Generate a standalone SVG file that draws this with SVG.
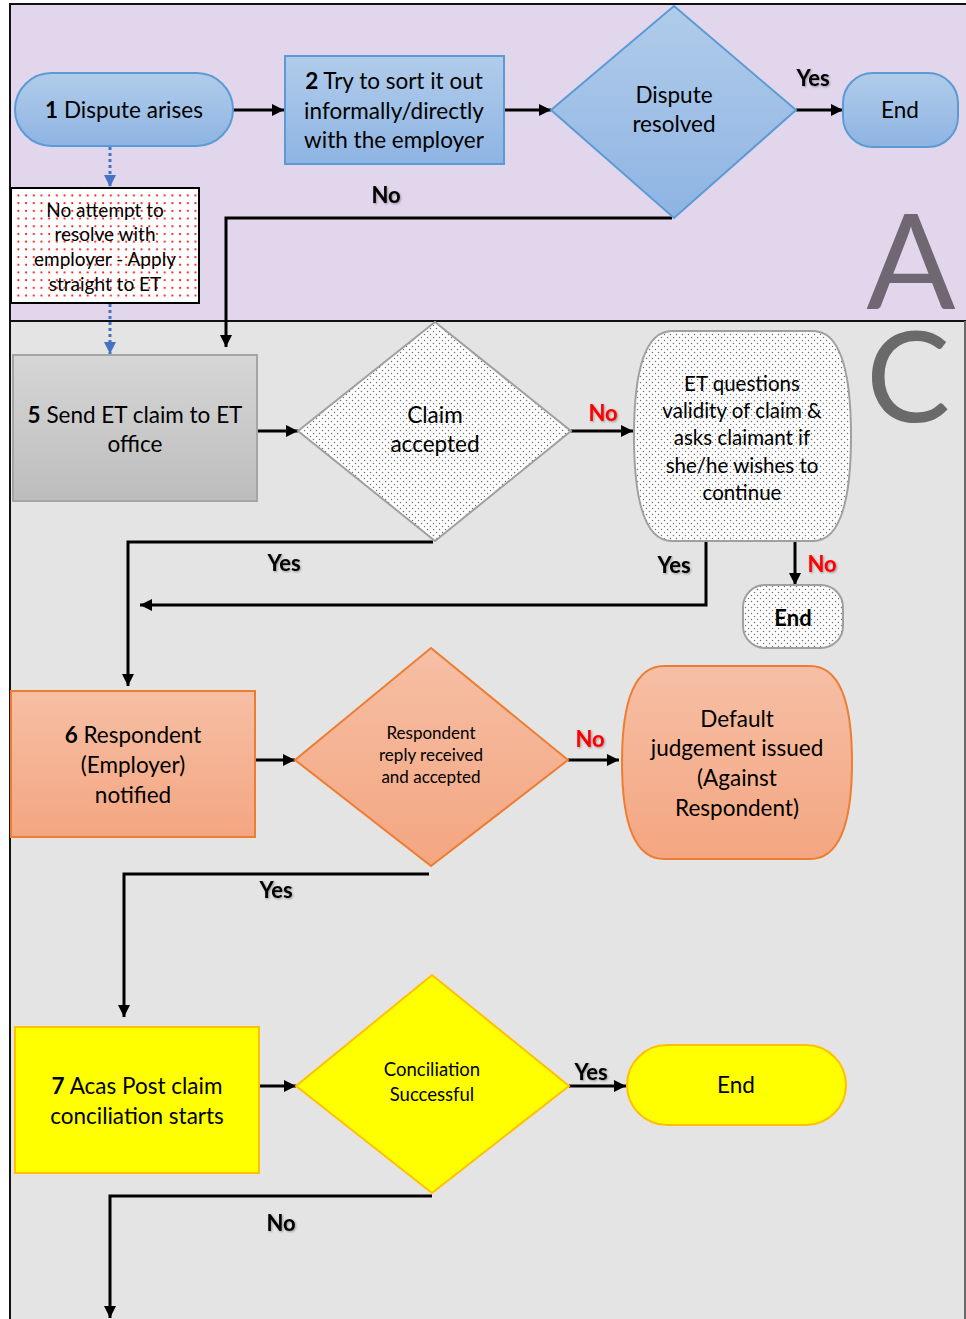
<svg xmlns="http://www.w3.org/2000/svg" width="966" height="1319" viewBox="0 0 966 1319">
  <defs>
    <style>
      .t { font-family: Lato, "Liberation Sans", sans-serif; fill: #000; text-anchor: middle; }
      .lbl { font-family: Lato, "Liberation Sans", sans-serif; font-weight: bold; font-size: 22px; text-anchor: middle; filter: url(#soft); }
      .yes { fill: #000; }
      .no { fill: #FF0000; }
      .conn { fill: none; stroke: #000; stroke-width: 3; }
      .dash { fill: none; stroke: #4472C4; stroke-width: 3; stroke-dasharray: 3 3; }
      .big { font-family: Lato, "Liberation Sans", sans-serif; text-anchor: middle; }
      .f22 { font-size: 22.5px; }
    </style>
    <linearGradient id="gBlue" x1="0" y1="0" x2="0" y2="1">
      <stop offset="0" stop-color="#B1CCEA"/>
      <stop offset="1" stop-color="#8EB4E3"/>
    </linearGradient>
    <linearGradient id="gGrey" x1="0" y1="0" x2="0" y2="1">
      <stop offset="0" stop-color="#D6D6D6"/>
      <stop offset="1" stop-color="#BDBDBD"/>
    </linearGradient>
    <linearGradient id="gOrange" x1="0" y1="0" x2="0" y2="1">
      <stop offset="0" stop-color="#F6BFA5"/>
      <stop offset="1" stop-color="#F4A681"/>
    </linearGradient>
    <pattern id="pGrey" width="6" height="6" patternUnits="userSpaceOnUse">
      <rect width="6" height="6" fill="#FFFFFF"/>
      <circle cx="1.5" cy="1.5" r="0.75" fill="#707070"/>
      <circle cx="4.5" cy="4.5" r="0.75" fill="#707070"/>
    </pattern>
    <pattern id="pRed" width="7.7" height="7.7" patternUnits="userSpaceOnUse">
      <rect width="7.7" height="7.7" fill="#FFFFFF"/>
      <circle cx="3" cy="3" r="1.05" fill="#FF0000"/>
    </pattern>
    <marker id="ah" viewBox="0 0 12 12" markerWidth="12" markerHeight="12" refX="12" refY="6" orient="auto" markerUnits="userSpaceOnUse">
      <path d="M0,0 L12,6 L0,12 z" fill="#000"/>
    </marker>
    <marker id="ahBlue" viewBox="0 0 12 12" markerWidth="12" markerHeight="12" refX="12" refY="6" orient="auto" markerUnits="userSpaceOnUse">
      <path d="M0,0 L12,6 L0,12 z" fill="#4472C4"/>
    </marker>
    <filter id="soft" x="-20%" y="-20%" width="140%" height="140%">
      <feDropShadow dx="1" dy="1" stdDeviation="0.8" flood-color="#000" flood-opacity="0.35"/>
    </filter>
  </defs>

  <!-- Section backgrounds and section letters -->
  <g id="sections">
    <rect x="10" y="4" width="960" height="317" fill="#E2D6EC" stroke="#111" stroke-width="2"/>
    <rect x="10" y="321" width="955" height="1002" fill="#E4E4E4" stroke="#111" stroke-width="2"/>
    <line x1="965" y1="321" x2="965" y2="1319" stroke="#888" stroke-width="1.5"/>
    <text class="big" x="911" y="309" font-size="132" fill="#6F6872">A</text>
    <text class="big" x="908" y="422" font-size="126" fill="#6A6A6A">C</text>
  </g>

  <!-- Connectors -->
  <g id="connectors">
    <line class="conn" x1="233" y1="110" x2="284" y2="110" marker-end="url(#ah)"/>
    <line class="conn" x1="504" y1="110" x2="551" y2="110" marker-end="url(#ah)"/>
    <line class="conn" x1="796" y1="110" x2="843" y2="110" marker-end="url(#ah)"/>
    <polyline class="conn" points="672,218 226,218 226,347" marker-end="url(#ah)"/>
    <line class="dash" x1="110" y1="147" x2="110" y2="187" marker-end="url(#ahBlue)"/>
    <line class="dash" x1="110" y1="304" x2="110" y2="354" marker-end="url(#ahBlue)"/>

    <line class="conn" x1="257" y1="431" x2="298" y2="431" marker-end="url(#ah)"/>
    <line class="conn" x1="571" y1="431" x2="633" y2="431" marker-end="url(#ah)"/>
    <polyline class="conn" points="433,542 128,542 128,686" marker-end="url(#ah)"/>
    <polyline class="conn" points="706,540 706,605 140,605" marker-end="url(#ah)"/>
    <line class="conn" x1="795" y1="541" x2="795" y2="585" marker-end="url(#ah)"/>

    <line class="conn" x1="255" y1="760" x2="295" y2="760" marker-end="url(#ah)"/>
    <line class="conn" x1="568" y1="760" x2="619" y2="760" marker-end="url(#ah)"/>
    <polyline class="conn" points="429,874 124,874 124,1017" marker-end="url(#ah)"/>

    <line class="conn" x1="259" y1="1086" x2="296" y2="1086" marker-end="url(#ah)"/>
    <line class="conn" x1="569" y1="1086" x2="626" y2="1086" marker-end="url(#ah)"/>
    <polyline class="conn" points="432,1196 110,1196 110,1318" marker-end="url(#ah)"/>

    <text class="lbl yes" x="813" y="86">Yes</text>
    <text class="lbl yes" x="386" y="203">No</text>
    <text class="lbl no" x="603" y="421">No</text>
    <text class="lbl yes" x="284" y="571">Yes</text>
    <text class="lbl yes" x="674" y="573">Yes</text>
    <text class="lbl no" x="822" y="572">No</text>
    <text class="lbl no" x="590" y="747">No</text>
    <text class="lbl yes" x="276" y="898">Yes</text>
    <text class="lbl yes" x="591" y="1080">Yes</text>
    <text class="lbl yes" x="281" y="1231">No</text>
  </g>

  <!-- Section A nodes -->
  <g id="n1">
    <rect x="15" y="73" width="218" height="73" rx="36.5" fill="url(#gBlue)" stroke="#5B9BD5" stroke-width="2"/>
    <text class="t f22" x="124" y="118"><tspan font-weight="bold">1</tspan> Dispute arises</text>
  </g>
  <g id="n2">
    <rect x="285" y="56" width="219" height="108" fill="url(#gBlue)" stroke="#5B9BD5" stroke-width="2"/>
    <text class="t f22" x="394" y="89"><tspan font-weight="bold">2</tspan> Try to sort it out</text>
    <text class="t f22" x="394" y="119">informally/directly</text>
    <text class="t f22" x="394" y="148">with the employer</text>
  </g>
  <g id="n3">
    <polygon points="674,6 796,110 674,218 551,110" fill="url(#gBlue)" stroke="#5B9BD5" stroke-width="2"/>
    <text class="t f22" x="674" y="103">Dispute</text>
    <text class="t f22" x="674" y="132">resolved</text>
  </g>
  <g id="n4">
    <rect x="843" y="73" width="115" height="74" rx="30" fill="url(#gBlue)" stroke="#5B9BD5" stroke-width="2"/>
    <text class="t f22" x="900" y="118">End</text>
  </g>
  <g id="n_direct">
    <rect x="11" y="188" width="188" height="115" fill="url(#pRed)" stroke="#000" stroke-width="2"/>
    <text class="t" x="105" y="217" font-size="19">No attempt to</text>
    <text class="t" x="105" y="241" font-size="19">resolve with</text>
    <text class="t" x="105" y="266" font-size="19">employer - Apply</text>
    <text class="t" x="105" y="291" font-size="19">straight to ET</text>
  </g>

  <!-- Section C nodes -->
  <g id="n5">
    <rect x="13" y="355" width="244" height="146" fill="url(#gGrey)" stroke="#A5A5A5" stroke-width="2"/>
    <text class="t f22" x="135" y="423"><tspan font-weight="bold">5</tspan> Send ET claim to ET</text>
    <text class="t f22" x="135" y="452">office</text>
  </g>
  <g id="n_claim">
    <polygon points="435,322 571,431 435,541 298,431" fill="url(#pGrey)" stroke="#A0A0A0" stroke-width="2"/>
    <text class="t f22" x="435" y="423">Claim</text>
    <text class="t f22" x="435" y="452">accepted</text>
  </g>
  <g id="n_question">
    <path d="M672,331 L813,331 Q851,331 851,436 Q851,541 813,541 L672,541 Q634,541 634,436 Q634,331 672,331 Z" fill="url(#pGrey)" stroke="#A0A0A0" stroke-width="2"/>
    <text class="t" x="742" y="391" font-size="20.5">ET questions</text>
    <text class="t" x="742" y="418" font-size="20.5">validity of claim &amp;</text>
    <text class="t" x="742" y="445" font-size="20.5">asks claimant if</text>
    <text class="t" x="742" y="473" font-size="20.5">she/he wishes to</text>
    <text class="t" x="742" y="500" font-size="20.5">continue</text>
  </g>
  <g id="n_end2">
    <rect x="743" y="585" width="100" height="63" rx="22" fill="url(#pGrey)" stroke="#A0A0A0" stroke-width="2"/>
    <text class="t" x="793" y="626" font-size="22" font-weight="bold">End</text>
  </g>

  <g id="n6">
    <rect x="11" y="691" width="244" height="146" fill="url(#gOrange)" stroke="#ED7D31" stroke-width="2"/>
    <text class="t f22" x="133" y="743"><tspan font-weight="bold">6</tspan> Respondent</text>
    <text class="t f22" x="133" y="773">(Employer)</text>
    <text class="t f22" x="133" y="803">notified</text>
  </g>
  <g id="n_reply">
    <polygon points="431,648 568,760 431,866 295,760" fill="url(#gOrange)" stroke="#ED7D31" stroke-width="2"/>
    <text class="t" x="431" y="739" font-size="17">Respondent</text>
    <text class="t" x="431" y="761" font-size="17">reply received</text>
    <text class="t" x="431" y="783" font-size="17">and accepted</text>
  </g>
  <g id="n_default">
    <path d="M664,666 L810,666 Q852,666 852,762 Q852,859 810,859 L664,859 Q622,859 622,762 Q622,666 664,666 Z" fill="url(#gOrange)" stroke="#ED7D31" stroke-width="2"/>
    <text class="t" x="737" y="727" font-size="22.5">Default</text>
    <text class="t" x="737" y="756" font-size="22.5">judgement issued</text>
    <text class="t" x="737" y="786" font-size="22.5">(Against</text>
    <text class="t" x="737" y="816" font-size="22.5">Respondent)</text>
  </g>

  <g id="n7">
    <rect x="15" y="1027" width="244" height="146" fill="#FFFF00" stroke="#FFC000" stroke-width="2"/>
    <text class="t f22" x="137" y="1094"><tspan font-weight="bold">7</tspan> Acas Post claim</text>
    <text class="t f22" x="137" y="1124">conciliation starts</text>
  </g>
  <g id="n_concil">
    <polygon points="432,975 569,1086 432,1193 296,1086" fill="#FFFF00" stroke="#FFC000" stroke-width="2"/>
    <text class="t" x="432" y="1076" font-size="18.5">Conciliation</text>
    <text class="t" x="432" y="1101" font-size="18.5">Successful</text>
  </g>
  <g id="n_end3">
    <rect x="627" y="1045" width="219" height="80" rx="40" fill="#FFFF00" stroke="#FFC000" stroke-width="2"/>
    <text class="t f22" x="736" y="1093">End</text>
  </g>
</svg>
